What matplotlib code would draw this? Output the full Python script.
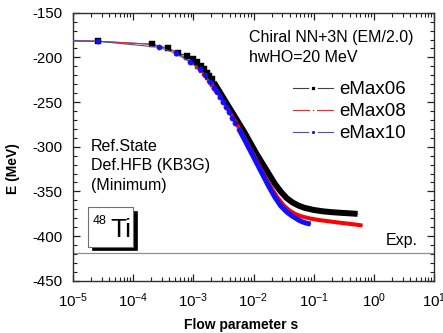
import numpy as np
import matplotlib
matplotlib.use('Agg')
import matplotlib.pyplot as plt
from matplotlib.lines import Line2D
from matplotlib.patches import Rectangle
from matplotlib.ticker import MultipleLocator, LogLocator, NullFormatter

plt.rcParams['font.family'] = ['Liberation Sans', 'DejaVu Sans']
plt.rcParams['mathtext.fontset'] = 'custom'
plt.rcParams['mathtext.rm'] = 'Liberation Sans'
plt.rcParams['mathtext.it'] = 'Liberation Sans:italic'
plt.rcParams['mathtext.bf'] = 'Liberation Sans:bold'
plt.rcParams['axes.unicode_minus'] = False

# ---- data (log10 of flow parameter s, energy in MeV) ----
log_s_06 = [-5.3, -4.59, -3.69, -3.42, -3.26, -3.105, -3.0, -2.932, -2.873, -2.821,
            -2.775, -2.733, -2.695, -2.66, -2.627, -2.55, -2.45, -2.35, -2.25, -2.15,
            -2.05, -1.95, -1.85, -1.75, -1.65, -1.55, -1.45, -1.35, -1.25, -1.15,
            -1.0, -0.85, -0.7, -0.55, -0.4, -0.27]
E_06 = [-181.0, -182.0, -185.3, -190.0, -194.8, -198.5, -202, -205.4, -209.4, -213.3,
        -217, -220.7, -224.5, -228, -231.5, -240, -251, -262, -273, -284,
        -296, -308, -319, -330, -341, -350, -357.5, -362.5, -366, -368.5,
        -370.8, -372.3, -373.3, -374, -374.6, -375.2]

log_s_08 = [-5.3, -4.59, -3.69, -3.42, -3.26, -3.13, -3.0, -2.932, -2.873, -2.821,
            -2.775, -2.733, -2.695, -2.66, -2.627, -2.55, -2.5, -2.45, -2.4, -2.3,
            -2.2, -2.1, -2.0, -1.9, -1.8, -1.7, -1.6, -1.5, -1.4, -1.3,
            -1.2, -1.05, -0.9, -0.75, -0.6, -0.45, -0.3, -0.19]
E_08 = [-181.0, -182.0, -185.3, -190.0, -194.8, -201, -206.5, -210.5, -214.8, -218.9,
        -222.7, -226.6, -230.5, -234.2, -237.8, -244.5, -250, -255.5, -261, -272,
        -284, -296.5, -309, -322, -335, -346.5, -357, -365.5, -371.5, -375.5,
        -378, -380.5, -382.2, -383.5, -384.8, -386, -387.2, -388.2]

log_s_10 = [-5.3, -4.59, -3.567, -3.29, -3.05, -2.895, -2.8, -2.717, -2.65, -2.6,
            -2.55, -2.5, -2.45, -2.4, -2.35, -2.3, -2.25, -2.2, -2.15, -2.05,
            -1.95, -1.85, -1.75, -1.65, -1.55, -1.45, -1.35, -1.3, -1.24, -1.18,
            -1.12, -1.05]
E_10 = [-181.0, -182.0, -188.7, -195.5, -205.5, -213.4, -220, -228, -234, -239,
        -244, -249.7, -255.5, -261.5, -267.5, -273.5, -279.5, -285.7, -292, -305,
        -318, -331, -344, -356, -366, -373, -378, -380, -382.5, -384.3,
        -385.6, -386.6]

E_exp = -418.7
labels = ['eMax06', 'eMax08', 'eMax10']

# (log s, E, marker colour, line colour, marker, size, band width, band start, band z, marker z)
series = [
    (log_s_06, E_06, '#000000', '#404040', 's', 4.0, 4.3, -2.66, 3, 6.5),
    (log_s_08, E_08, '#ff0000', '#e03030', 's', 3.0, 2.9, -2.45, 5, 6),
    (log_s_10, E_10, '#1010ff', '#5050a0', 'o', 3.8, 3.6, -2.25, 7, 8),
]

fig = plt.figure(figsize=(4.43, 3.33), dpi=100)
ax = fig.add_axes([73/443, 1-280.7/333, (434-73)/443, (280.7-12.7)/333])

ax.set_xscale('log')
ax.set_xlim(1e-5, 10)
ax.set_ylim(-450, -150)

for (ls, E, mc, lc, mk, ms, band, start, zb, zm) in series:
    ls = np.array(ls)
    s = 10.0 ** ls
    E = np.array(E)
    ax.plot(s, E, '-', color=lc, lw=0.8, zorder=zb)
    m = ls >= start
    ax.plot(s[m], E[m], '-', color=mc, lw=band, solid_capstyle='butt',
            solid_joinstyle='round', zorder=zb)
    k = ~m
    ax.plot(s[k], E[k], ls='none', marker=mk, ms=ms, color=mc, mec=mc, mew=0.3,
            zorder=zm)

ax.axhline(E_exp, color='#909090', lw=0.9, zorder=2)
ax.text(0.955, E_exp + 13.5, 'Exp.', transform=ax.get_yaxis_transform(),
        ha='right', va='center', fontsize=11.5)

# legend
handles = []
for (ls, E, mc, lc, mk, ms, band, start, zb, zm) in series:
    handles.append(Line2D([], [], color=lc, lw=0.8, marker=mk, ms=ms + 0.5,
                          mfc=mc, mec='white', mew=2.0))
ax.legend(handles, labels, loc='upper left', bbox_to_anchor=(0.61, 0.745),
          frameon=False, fontsize=13.5, handlelength=2.1, handletextpad=0.33,
          labelspacing=0.26, borderpad=0, borderaxespad=0)

# annotations
ax.text(0.488, 0.908, 'Chiral NN+3N (EM/2.0)', transform=ax.transAxes,
        ha='left', va='center', fontsize=11.5)
ax.text(0.488, 0.834, 'hwHO=20 MeV', transform=ax.transAxes,
        ha='left', va='center', fontsize=11.5)
ax.text(0.049, 0.5026, 'Ref.State', transform=ax.transAxes,
        ha='left', va='center', fontsize=11.5)
ax.text(0.049, 0.429, 'Def.HFB (KB3G)', transform=ax.transAxes,
        ha='left', va='center', fontsize=11.5)
ax.text(0.049, 0.356, '(Minimum)', transform=ax.transAxes,
        ha='left', va='center', fontsize=11.5)

# nucleus box with shadow
x0, x1, y0, y1 = 0.0424, 0.167, 0.127, 0.274
ax.add_patch(Rectangle((x0 + 0.0095, y0 - 0.0125), x1 - x0, y1 - y0,
                       transform=ax.transAxes, facecolor='black', edgecolor='black',
                       lw=0.5, zorder=9))
ax.add_patch(Rectangle((x0, y0), x1 - x0, y1 - y0, transform=ax.transAxes,
                       facecolor='white', edgecolor='#707070', lw=0.8, zorder=10))
ax.text(0.0535, 0.2116, '48', transform=ax.transAxes, ha='left', va='baseline',
        fontsize=9, zorder=11)
ax.text(0.1025, 0.162, 'Ti', transform=ax.transAxes, ha='left', va='baseline',
        fontsize=19, zorder=11)

# axes style
ax.yaxis.set_major_locator(MultipleLocator(50))
ax.yaxis.set_minor_locator(MultipleLocator(10))
ax.xaxis.set_major_locator(LogLocator(base=10, numticks=20))
ax.xaxis.set_minor_locator(LogLocator(base=10, subs=np.arange(2, 10), numticks=20))
ax.xaxis.set_minor_formatter(NullFormatter())
ax.tick_params(which='both', direction='in', top=True, right=True,
               colors='#202020', labelcolor='black')
ax.tick_params(which='major', length=5, width=0.9)
ax.tick_params(which='minor', length=3, width=0.8)
ax.tick_params(axis='y', labelsize=10.8, pad=7.5)
ax.tick_params(axis='x', labelsize=10.8, pad=8)
for sp in ax.spines.values():
    sp.set_linewidth(1.0)
    sp.set_color('#303030')

ax.set_xlabel('Flow parameter s', fontsize=10, fontweight='bold')
ax.set_ylabel('E (MeV)', fontsize=10, fontweight='bold')
ax.xaxis.set_label_coords(0.467, -0.138)
ax.yaxis.set_label_coords(-0.148, 0.42)

fig.savefig('out.png', dpi=100)
